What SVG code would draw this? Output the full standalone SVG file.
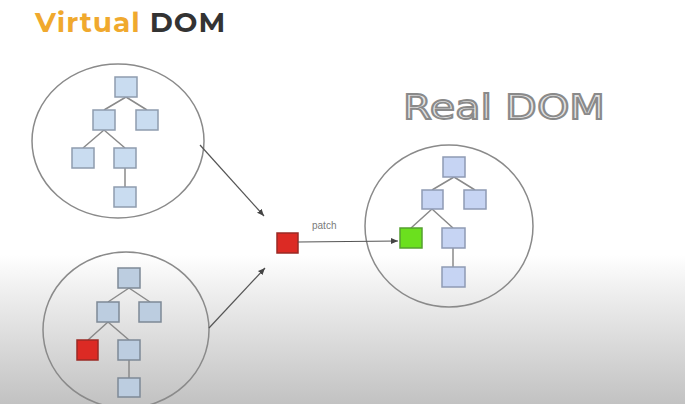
<svg xmlns="http://www.w3.org/2000/svg" width="685" height="404" viewBox="0 0 685 404">
<defs>
<linearGradient id="bg" x1="0" y1="0" x2="0" y2="1">
<stop offset="0" stop-color="#ffffff"/>
<stop offset="0.63" stop-color="#ffffff"/>
<stop offset="0.72" stop-color="#efefef"/>
<stop offset="1" stop-color="#c2c2c2"/>
</linearGradient>
<marker id="ah" markerWidth="8" markerHeight="8" refX="7" refY="4" orient="auto" markerUnits="userSpaceOnUse">
<path d="M0,1 L7,4 L0,7 Z" fill="#444"/>
</marker>
</defs>
<style>
.ring{fill:none;stroke:#8a8a8a;stroke-width:1.5}
.edge{stroke:#8a8a8a;stroke-width:1.5;fill:none}
.v1{fill:#c9dcf0;stroke:#8e9cae;stroke-width:1.5}
.v2{fill:#bccde0;stroke:#7e8996;stroke-width:1.5}
.rd{fill:#c6d4f3;stroke:#8e9ab4;stroke-width:1.5}
.red{fill:#dc2a24;stroke:#9a2a24;stroke-width:1.5}
.green{fill:#6be01e;stroke:#55a030;stroke-width:1.5}
.conn{stroke:#555;stroke-width:1.2;fill:none;marker-end:url(#ah)}
</style>
<rect x="0" y="0" width="685" height="404" fill="url(#bg)"/>
<g id="title">
<text x="35" y="32" font-family="Montserrat, 'Open Sans', 'Liberation Sans', sans-serif" font-weight="bold" font-size="28" letter-spacing="1"><tspan fill="#f0a92e">Virtual</tspan><tspan fill="#333333"> DOM</tspan></text>
</g>
<g id="realdom-title">
<text x="403" y="119" font-family="'DejaVu Sans', 'Liberation Sans', sans-serif" font-size="33" fill="#e4e4e4" stroke="#8a8a8a" stroke-width="1.8" textLength="202" lengthAdjust="spacingAndGlyphs">Real DOM</text>
</g>
<g id="vdom1">
<ellipse class="ring" cx="118" cy="141" rx="86" ry="77"/>
<path class="edge" d="M126,97 L104,110 M126,97 L147,110 M104,130 L83,148 M104,130 L125,148 M125,168 L125,187"/>
<rect class="v1" x="115" y="77" width="22" height="20"/>
<rect class="v1" x="93" y="110" width="22" height="20"/>
<rect class="v1" x="136" y="110" width="22" height="20"/>
<rect class="v1" x="72" y="148" width="22" height="20"/>
<rect class="v1" x="114" y="148" width="22" height="20"/>
<rect class="v1" x="114" y="187" width="22" height="20"/>
</g>
<g id="vdom2">
<ellipse class="ring" cx="126" cy="330" rx="83" ry="78"/>
<path class="edge" d="M129,288 L108,302 M129,288 L150,302 M108,322 L88,340 M108,322 L129,340 M129,360 L129,378"/>
<rect class="v2" x="118" y="268" width="22" height="20"/>
<rect class="v2" x="97" y="302" width="22" height="20"/>
<rect class="v2" x="139" y="302" width="22" height="20"/>
<rect class="red" x="77" y="340" width="21" height="20"/>
<rect class="v2" x="118" y="340" width="22" height="20"/>
<rect class="v2" x="118" y="378" width="22" height="19"/>
</g>
<g id="patch-node">
<rect class="red" x="277" y="233" width="21" height="20"/>
</g>
<g id="realdom">
<ellipse class="ring" cx="449" cy="226" rx="84" ry="81"/>
<path class="edge" d="M454,177 L432,190 M454,177 L475,190 M432,209 L411,228 M432,209 L453,228 M453,248 L453,267"/>
<rect class="rd" x="443" y="157" width="22" height="20"/>
<rect class="rd" x="422" y="190" width="21" height="19"/>
<rect class="rd" x="464" y="190" width="22" height="19"/>
<rect class="green" x="400" y="228" width="22" height="20"/>
<rect class="rd" x="442" y="228" width="23" height="20"/>
<rect class="rd" x="442" y="267" width="23" height="20"/>
</g>
<g id="connectors">
<line class="conn" x1="200" y1="145" x2="264" y2="216"/>
<line class="conn" x1="209" y1="328" x2="265" y2="268"/>
<line class="conn" x1="298" y1="242" x2="398" y2="241"/>
<text x="312" y="229" font-family="'Liberation Sans', Arial, sans-serif" font-size="10" fill="#7a7a7a">patch</text>
</g>
</svg>
